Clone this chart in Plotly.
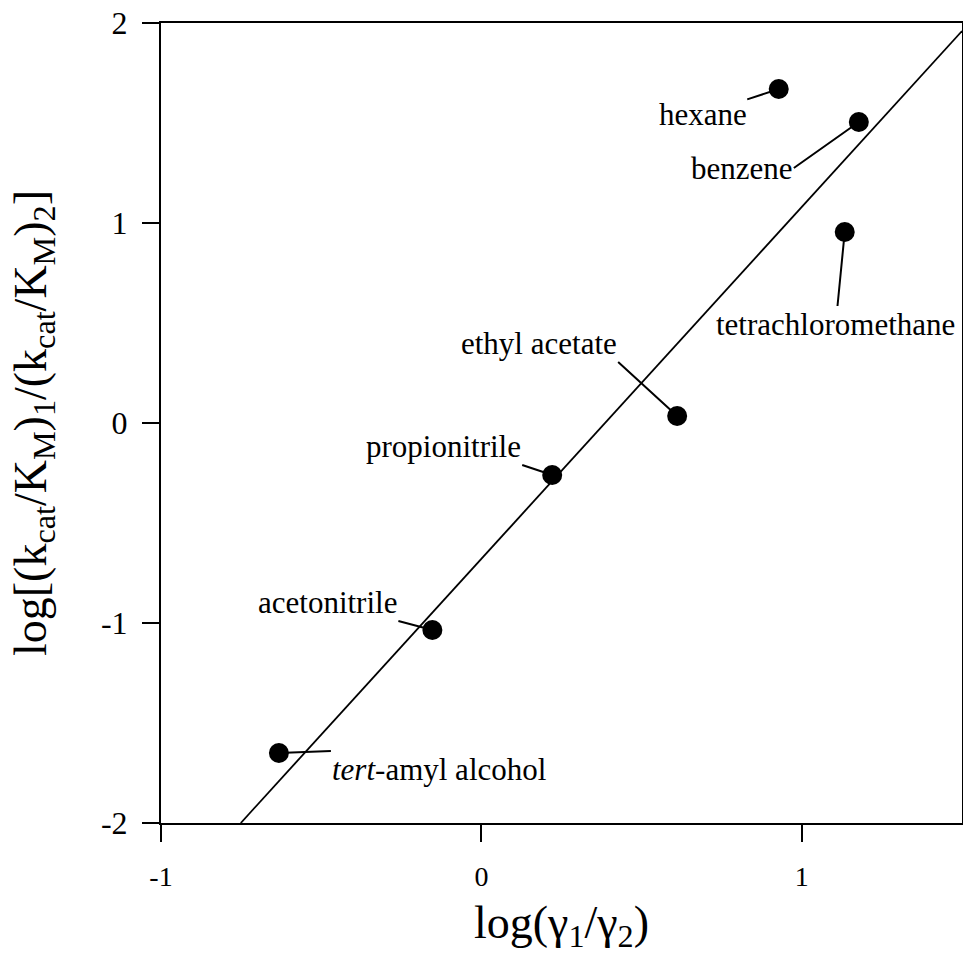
import plotly.graph_objects as go

# Solvent data: log activity-coefficient ratio vs. log selectivity ratio
solvents = ["tert-amyl alcohol", "acetonitrile", "propionitrile", "ethyl acetate",
            "hexane", "benzene", "tetrachloromethane"]
log_gamma_ratio = [-0.632, -0.153, 0.221, 0.611, 0.928, 1.178, 1.134]
log_kcat_km_ratio = [-1.65, -1.035, -0.26, 0.035, 1.67, 1.505, 0.955]

# Fitted straight line (endpoints within the axes box)
fit_x = [-0.751, 1.5]
fit_y = [-2.0, 1.96]

# Tick labels
x_ticks = [-1, 0, 1]
x_ticktext = ["-1", "0", "1"]
y_ticks = [-2, -1, 0, 1, 2]
y_ticktext = ["-2", "-1", "0", "1", "2"]

label_text = {
    "tert-amyl alcohol": "<i>tert</i>-amyl alcohol",
}
# Label placement: pixel offset of the label from its point, and anchoring
label_layout = {
    "tert-amyl alcohol": dict(ax=52, ay=-2, xanchor="left", yanchor="top"),
    "acetonitrile": dict(ax=-34, ay=-9, xanchor="right", yanchor="bottom"),
    "propionitrile": dict(ax=-30, ay=-10, xanchor="right", yanchor="bottom"),
    "ethyl acetate": dict(ax=-59, ay=-54, xanchor="right", yanchor="bottom"),
    "hexane": dict(ax=-76, ay=25, xanchor="auto", yanchor="auto"),
    "benzene": dict(ax=-65, ay=46, xanchor="right", yanchor="middle"),
    "tetrachloromethane": dict(ax=-9, ay=92, xanchor="auto", yanchor="auto"),
}

FONT = "Liberation Serif, Times New Roman, serif"

fig = go.Figure()

fig.add_trace(go.Scatter(
    x=fit_x, y=fit_y, mode="lines",
    line=dict(color="black", width=1.8),
    showlegend=False, hoverinfo="skip",
))

fig.add_trace(go.Scatter(
    x=log_gamma_ratio, y=log_kcat_km_ratio, mode="markers",
    marker=dict(color="black", size=20, line=dict(width=0)),
    showlegend=False,
))

annotations = []
for name, xv, yv in zip(solvents, log_gamma_ratio, log_kcat_km_ratio):
    lay = label_layout[name]
    annotations.append(dict(
        x=xv, y=yv, xref="x", yref="y",
        text=label_text.get(name, name),
        showarrow=True, arrowhead=0, arrowwidth=2, arrowcolor="black",
        standoff=0, axref="pixel", ayref="pixel",
        ax=lay["ax"], ay=lay["ay"],
        xanchor=lay["xanchor"], yanchor=lay["yanchor"],
        borderpad=0,
        font=dict(family=FONT, size=31, color="black"),
    ))

axis_common = dict(
    showgrid=False, zeroline=False,
    showline=True, linecolor="black", linewidth=2, mirror=True,
    ticks="outside", ticklen=17, tickwidth=2, tickcolor="black",
    automargin=False,
)

fig.update_layout(
    width=963, height=958,
    margin=dict(l=161, r=1, t=23, b=135),
    paper_bgcolor="white", plot_bgcolor="white",
    template="none",
    font=dict(family=FONT, color="black"),
    xaxis=dict(
        range=[-1, 1.5], tickvals=x_ticks, ticktext=x_ticktext,
        tickfont=dict(family=FONT, size=28),
        ticklabelstandoff=10,
        title=dict(text="log(γ<sub>1</sub>/γ<sub>2</sub>)",
                   font=dict(family=FONT, size=46), standoff=15),
        **axis_common,
    ),
    yaxis=dict(
        range=[-2, 2], tickvals=y_ticks, ticktext=y_ticktext,
        tickfont=dict(family=FONT, size=32),
        ticklabelstandoff=8,
        title=dict(text="log[(k<sub>cat</sub>/K<sub>M</sub>)<sub>1</sub>/(k<sub>cat</sub>/K<sub>M</sub>)<sub>2</sub>]",
                   font=dict(family=FONT, size=46), standoff=40),
        **axis_common,
    ),
    annotations=annotations,
)

fig.write_html("out.html")
